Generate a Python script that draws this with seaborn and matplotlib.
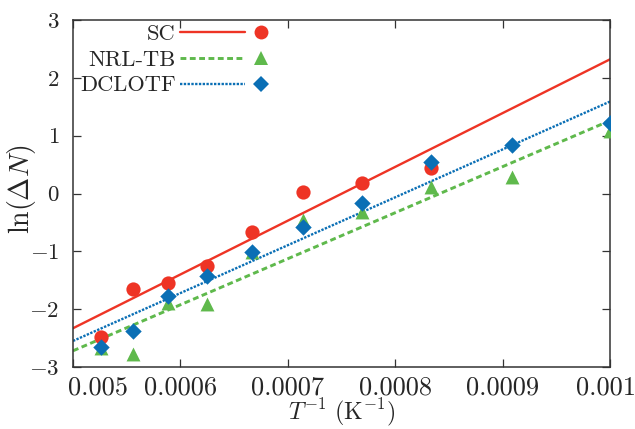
import matplotlib
matplotlib.use("Agg")
import matplotlib.pyplot as plt
import numpy as np
import seaborn as sns
from matplotlib.lines import Line2D
from matplotlib.legend_handler import HandlerTuple
from matplotlib.transforms import ScaledTranslation

# Temperatures (K) of the data points; x axis is 1/T
temps = [1900, 1800, 1700, 1600, 1500, 1400, 1300, 1200, 1100, 1000]

# ln(dN)
sc_vals = [-2.48, -1.65, -1.55, -1.25, -0.67, 0.02, 0.19, 0.44]
nrl_vals = [-2.67, -2.77, -1.89, -1.91, -1.01, -0.46, -0.32, 0.11, 0.28, 1.08]
dclotf_vals = [-2.65, -2.38, -1.77, -1.43, -1.01, -0.58, -0.17, 0.54, 0.84, 1.22]

# fitted lines, value at the ends of the x range
fit_x = [0.0005, 0.001]
sc_fit = [-2.33, 2.32]
nrl_fit = [-2.72, 1.26]
dclotf_fit = [-2.55, 1.59]

xticks = [0.0005, 0.0006, 0.0007, 0.0008, 0.0009, 0.001]
xtick_labels = ["0.005", "0.0006", "0.0007", "0.0008", "0.0009", "0.001"]
yticks = [-3, -2, -1, 0, 1, 2, 3]

inv_t = 1.0 / np.array(temps, dtype=float)

red = "#ee3425"
green = "#5fb94c"
blue = "#0a6fb5"

sns.set_theme(style="ticks")
plt.rcParams["font.family"] = ["cmr10", "DejaVu Serif"]
plt.rcParams["mathtext.fontset"] = "cm"
plt.rcParams["axes.unicode_minus"] = False
fs = 19.0
yfs = 16.5
lfs = 16.2

fig, ax = plt.subplots(figsize=(6.35, 4.29), dpi=100)
fig.subplots_adjust(left=73 / 635, right=610 / 635, top=1 - 20 / 429, bottom=1 - 367 / 429)

sns.lineplot(x=fit_x, y=sc_fit, color=red, lw=1.7, ax=ax)
sns.lineplot(x=fit_x, y=nrl_fit, color=green, lw=2.1, ls=(0, (2.0, 1.2)), ax=ax)
sns.lineplot(x=fit_x, y=dclotf_fit, color=blue, lw=1.7, ls=(0, (1.0, 0.6)), ax=ax)

sns.scatterplot(x=inv_t[:len(sc_vals)], y=sc_vals, color=red, marker="o", s=105, linewidth=0, ax=ax, zorder=3)
sns.scatterplot(x=inv_t, y=nrl_vals, color=green, marker="^", s=100, linewidth=0, ax=ax, zorder=3)
sns.scatterplot(x=inv_t, y=dclotf_vals, color=blue, marker="D", s=70, linewidth=0, ax=ax, zorder=4)

ax.set_xlim(0.0005, 0.001)
ax.set_ylim(-3, 3)
ax.set_xticks(xticks)
ax.set_xticklabels(xtick_labels, fontsize=fs)
ax.set_yticks(yticks)
ax.set_yticklabels([f"${{-}}{-v}$" if v < 0 else f"${v}$" for v in yticks], fontsize=yfs)
ax.tick_params(direction="in", length=6, width=0.9, color="#333333", top=True, right=True, pad=10)
ax.tick_params(axis="x", pad=6)
for sp in ax.spines.values():
    sp.set_linewidth(1.1)
    sp.set_color("#333333")

# shift the two end labels the way the reference does
xl = ax.get_xticklabels()
xl[0].set_ha("left")
xl[0].set_transform(xl[0].get_transform() + ScaledTranslation(-5 / 100, 0, fig.dpi_scale_trans))
xl[-1].set_transform(xl[-1].get_transform() + ScaledTranslation(-4 / 100, 0, fig.dpi_scale_trans))

ax.set_xlabel(r"$T^{-1}\ (\mathrm{K}^{-1})$", fontsize=17.2)
ax.xaxis.set_label_coords(0.5, (367 - 397) / 347)
ax.set_ylabel(r"$\ln(\Delta N)$", fontsize=fs + 1)
ax.yaxis.set_label_coords((38 - 73) / 537, (367 - 189) / 347)

handles = [
    (Line2D([], [], color=red, lw=1.7), Line2D([], [], color=red, marker="o", ms=10, ls="", mew=0)),
    (Line2D([], [], color=green, lw=2.1, ls=(0, (2.0, 1.2))), Line2D([], [], color=green, marker="^", ms=10, ls="", mew=0)),
    (Line2D([], [], color=blue, lw=1.7, ls=(0, (1.0, 0.6))), Line2D([], [], color=blue, marker="D", ms=8, ls="", mew=0)),
]
em = lfs * 100 / 72
ax.legend(handles, ["SC", "NRL-TB", "DCLOTF"], handler_map={tuple: HandlerTuple(ndivide=2, pad=-16.5 / em)},
          markerfirst=False, frameon=False, fontsize=lfs, handlelength=113.5 / em, handletextpad=4 / em,
          labelspacing=0.27, borderpad=0, borderaxespad=0, loc="upper left",
          bbox_to_anchor=(80 / 635, 1 - 24 / 429), bbox_transform=fig.transFigure)

fig.savefig("out.png", dpi=100)
